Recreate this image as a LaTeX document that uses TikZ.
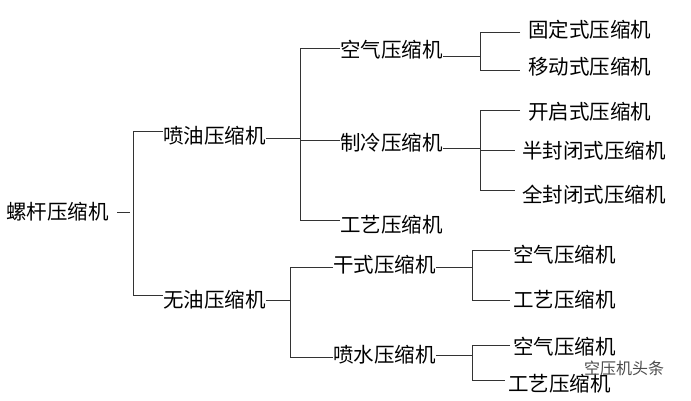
\documentclass[tikz,border=0pt]{standalone}
\usepackage{fontspec}
\newfontfamily\cjk{Noto Sans CJK SC}
\begin{document}
\begin{tikzpicture}[x=1pt,y=-1pt,
  lbl/.style={font=\cjk\fontsize{20.5}{22}\selectfont, inner sep=0pt, anchor=west},
  ln/.style={draw=black!80, line width=0.8pt}]
\useasboundingbox[fill=white] (0,0) rectangle (691,400);
% nodes
\node[lbl] (root) at (6,212) {螺杆压缩机};
\node[lbl] (py) at (163,136) {喷油压缩机};
\node[lbl] (wy) at (163,300) {无油压缩机};
\node[lbl] (kq) at (340,50) {空气压缩机};
\node[lbl] (zl) at (340,143) {制冷压缩机};
\node[lbl] (gy) at (340,225) {工艺压缩机};
\node[lbl] (gs) at (333,265) {干式压缩机};
\node[lbl] (ps) at (333,355) {喷水压缩机};
\node[lbl] (gd) at (528,30) {固定式压缩机};
\node[lbl] (yd) at (528,67) {移动式压缩机};
\node[lbl] (kqs) at (528,112) {开启式压缩机};
\node[lbl] (bf) at (522,151) {半封闭式压缩机};
\node[lbl] (qf) at (522,195) {全封闭式压缩机};
\node[lbl] (kq2) at (513,255) {空气压缩机};
\node[lbl] (gy2) at (513,300) {工艺压缩机};
\node[lbl] (kq3) at (513,347) {空气压缩机};
\node[lbl] (gy3) at (508,384) {工艺压缩机};
\node[font=\cjk\fontsize{16}{18}\selectfont, text=black!70, inner sep=0pt, anchor=west] (wm) at (584,368) {空压机头条};
% connectors
\draw[ln] (117,212) -- (130,212);
\draw[ln] (py.west |- 0,131) -- (133,131) -- (133,295) -- (wy.west |- 0,295);
\draw[ln] (py.east |- 0,138) -- (300,138);
\draw[ln] (kq.west |- 0,48) -- (300,48) -- (300,220) -- (gy.west |- 0,220);
\draw[ln] (300,140) -- (zl.west |- 0,140);
\draw[ln] (kq.east |- 0,56) -- (480,56);
\draw[ln] (520,32) -- (480,32) -- (480,70) -- (520,70);
\draw[ln] (zl.east |- 0,148) -- (480,148);
\draw[ln] (520,110) -- (480,110) -- (480,190) -- (515,190);
\draw[ln] (480,150) -- (515,150);
\draw[ln] (wy.east |- 0,300) -- (290,300);
\draw[ln] (gs.west |- 0,267) -- (290,267) -- (290,357) -- (ps.west |- 0,357);
\draw[ln] (gs.east |- 0,267) -- (472,267);
\draw[ln] (510,250) -- (472,250) -- (472,300) -- (510,300);
\draw[ln] (ps.east |- 0,355) -- (472,355);
\draw[ln] (510,345) -- (472,345) -- (472,380) -- (505,380);
\end{tikzpicture}
\end{document}
